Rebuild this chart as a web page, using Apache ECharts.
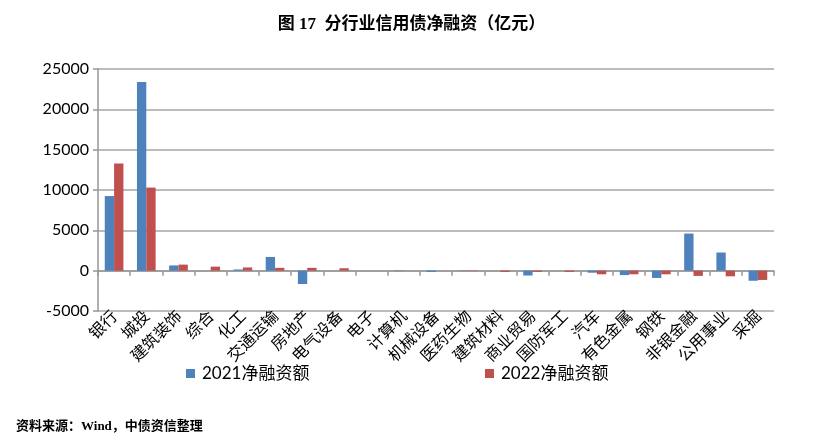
<!DOCTYPE html>
<html>
<head>
<meta charset="utf-8">
<script src="https://cdn.jsdelivr.net/npm/echarts@6/dist/echarts.min.js"></script>
<style>
html,body{margin:0;padding:0;background:#fff;}
#c{width:823px;height:439px;}
</style>
</head>
<body>
<div id="c"></div>
<script>
var categories = ['银行','城投','建筑装饰','综合','化工','交通运输','房地产','电气设备','电子','计算机','机械设备','医药生物','建筑材料','商业贸易','国防军工','汽车','有色金属','钢铁','非银金融','公用事业','采掘'];
var series2021 = [9250, 23400, 650, 0, 150, 1700, -1650, 0, 0, -50, -150, -50, 0, -600, 0, -250, -550, -900, 4600, 2250, -1250];
var series2022 = [13300, 10300, 750, 500, 400, 350, 350, 300, 0, 0, 0, -50, -150, -150, -150, -450, -450, -450, -650, -700, -1150];
var seriesNames = ['2021净融资额', '2022净融资额'];

var chart = echarts.init(document.getElementById('c'), null, {renderer: 'canvas'});
var gridColor = '#A6A6A6';
var cjk = "'Noto Sans CJK SC'";
chart.setOption({
  animation: false,
  backgroundColor: '#ffffff',
  title: [{
    text: '图 17  分行业信用债净融资（亿元）',
    left: 'center',
    top: 11,
    textStyle: {fontFamily: "'Liberation Serif'," + cjk, fontWeight: 'bold', fontSize: 17, color: '#000'}
  }, {
    text: '资料来源：Wind，中债资信整理',
    left: 11,
    top: 415,
    textStyle: {fontFamily: "'Liberation Serif'," + cjk, fontWeight: 'bold', fontSize: 13, color: '#000'}
  }],
  legend: [{
    data: [seriesNames[0]],
    left: 181, top: 360,
    icon: 'rect', itemWidth: 9, itemHeight: 9, itemGap: 6,
    textStyle: {fontFamily: "Lato," + cjk, fontSize: 17, color: '#000', padding: [0, 0, 0, 2]}
  }, {
    data: [seriesNames[1]],
    left: 480, top: 360,
    icon: 'rect', itemWidth: 9, itemHeight: 9, itemGap: 6,
    textStyle: {fontFamily: "Lato," + cjk, fontSize: 17, color: '#000', padding: [0, 0, 0, 2]}
  }],
  grid: {left: 98, right: 49, top: 69, bottom: 128, containLabel: false},
  xAxis: {
    type: 'category',
    data: categories,
    boundaryGap: true,
    axisLine: {onZero: true, lineStyle: {color: '#969696', width: 1.5}},
    axisTick: {show: true, alignWithLabel: false, inside: false, length: 5, lineStyle: {color: '#969696', width: 1.5}},
    axisLabel: {interval: 0, rotate: 45, margin: 2, fontSize: 16, color: '#000', fontFamily: cjk}
  },
  yAxis: {
    type: 'value',
    min: -5000, max: 25000, interval: 5000,
    axisLine: {show: true, lineStyle: {color: '#969696', width: 1.5}},
    axisTick: {show: true, length: 5, lineStyle: {color: '#969696', width: 1.5}},
    axisLabel: {fontSize: 16, color: '#000', fontFamily: 'Lato', margin: 9, formatter: function (v) { return String(v); }},
    splitLine: {show: true, lineStyle: {color: gridColor, width: 1.5}}
  },
  series: [{
    name: seriesNames[0], type: 'bar', data: series2021,
    barGap: '0%', barCategoryGap: '42%',
    itemStyle: {color: '#4F81BD'}
  }, {
    name: seriesNames[1], type: 'bar', data: series2022,
    barGap: '0%', barCategoryGap: '42%',
    itemStyle: {color: '#C0504D'}
  }]
});
</script>
</body>
</html>
